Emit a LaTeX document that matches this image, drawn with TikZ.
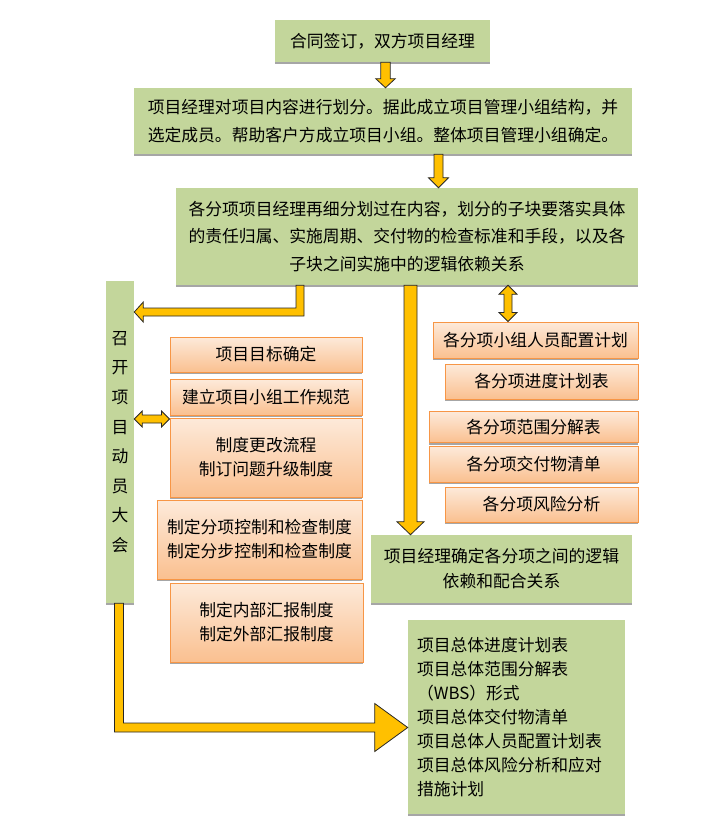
\documentclass[tikz,border=0pt]{standalone}
\usepackage{fontspec}
\setmainfont{Noto Sans CJK SC}
\usetikzlibrary{calc,shadows}
\definecolor{plangreen}{HTML}{C3D69B}
\definecolor{tasktop}{HTML}{FDEADA}
\definecolor{taskbot}{HTML}{FAC090}
\definecolor{taskline}{HTML}{F79646}
\definecolor{arrowyellow}{HTML}{FFC000}
\definecolor{shadowgray}{HTML}{A6A6A6}
\begin{document}
\begin{tikzpicture}[x=0.75pt,y=-0.75pt,
  box/.style 2 args={minimum width=#1*0.75pt,minimum height=#2*0.75pt,inner sep=3pt,align=center,
    general shadow={fill=shadowgray,shadow yshift=-1.6pt}},
  plan/.style={fill=plangreen,font=\fontsize{12.6}{18}\selectfont},
  task/.style={draw=taskline,line width=0.75pt,top color=tasktop,bottom color=taskbot,font=\fontsize{12.6}{18}\selectfont},
  fat/.style={fill=arrowyellow,draw=black!85,line width=0.6pt,line join=miter}]
\useasboundingbox (0,0) rectangle (708,819);
% main line
\node[plan,box={215}{42}] (sign) at (382.5,41) {合同签订，双方项目经理};
\node[plan,box={498}{66},font=\fontsize{12.6}{21}\selectfont] (divide) at (383,121)
  {项目经理对项目内容进行划分。据此成立项目管理小组结构，并\\选定成员。帮助客户方成立项目小组。整体项目管理小组确定。};
\node[plan,box={462}{97},font=\fontsize{12.6}{20.6}\selectfont] (split) at (407,236.5)
  {各分项项目经理再细分划过在内容，划分的子块要落实具体\\的责任归属、实施周期、交付物的检查标准和手段，以及各\\子块之间实施中的逻辑依赖关系};
\node[plan,box={28}{322},inner sep=0pt,font=\fontsize{12.6}{22.2}\selectfont] (meet) at (120,442)
  {召\\开\\项\\目\\动\\员\\大\\会};
% left column
\node[task,box={192}{35}] (goal) at (266,354.5) {项目目标确定};
\node[task,box={192}{36}] (norm) at (266,397) {建立项目小组工作规范};
\node[task,box={192}{79}] (change) at (266,457.5) {制度更改流程\\制订问题升级制度};
\node[task,box={205}{79}] (control) at (259.5,539.5) {制定分项控制和检查制度\\制定分步控制和检查制度};
\node[task,box={193}{79}] (report) at (266.5,622.5) {制定内部汇报制度\\制定外部汇报制度};
% right column
\node[task,box={205}{36}] (staff) at (535.5,340) {各分项小组人员配置计划};
\node[task,box={193}{35}] (sched) at (541.5,381.5) {各分项进度计划表};
\node[task,box={209}{31}] (scope) at (533.5,427) {各分项范围分解表};
\node[task,box={209}{36}] (deliv) at (533.5,464) {各分项交付物清单};
\node[task,box={193}{35}] (risk) at (541.5,504.5) {各分项风险分析};
\node[plan,box={261}{68},font=\fontsize{12.6}{18.75}\selectfont] (decide) at (501.5,569)
  {项目经理确定各分项之间的逻辑\\依赖和配合关系};
\node[plan,box={217}{194},align=left,text width=149.25pt,inner xsep=6.75pt] (total) at (516.5,717)
  {项目总体进度计划表\\项目总体范围分解表\\（WBS）形式\\项目总体交付物清单\\项目总体人员配置计划表\\项目总体风险分析和应对\\措施计划};
% arrows
\coordinate (a1s) at (sign.south -| 385.5,0);
\coordinate (a1e) at (divide.north -| 385.5,0);
\filldraw[fat] ($(a1s)+(-4.7,0)$) -- ($(a1s)+(4.7,0)$) -- ($(a1e)+(4.7,-9)$) -- ($(a1e)+(9.7,-9)$) -- (a1e)
  -- ($(a1e)+(-9.7,-9)$) -- ($(a1e)+(-4.7,-9)$) -- cycle;
\coordinate (a2s) at (divide.south -| 438.5,0);
\coordinate (a2e) at (split.north -| 438.5,0);
\filldraw[fat] ($(a2s)+(-4.5,0)$) -- ($(a2s)+(4.5,0)$) -- ($(a2e)+(4.5,-10)$) -- ($(a2e)+(10,-10)$) -- (a2e)
  -- ($(a2e)+(-10,-10)$) -- ($(a2e)+(-4.5,-10)$) -- cycle;
\coordinate (a3s) at (split.south -| 300,0);
\coordinate (a3e) at (meet.east |- 0,312);
\coordinate (a3c) at (a3s |- a3e);
\filldraw[fat] ($(a3s)+(-4,0)$) -- ($(a3s)+(4,0)$) -- ($(a3c)+(4,4)$) -- ($(a3e)+(9,4)$) -- ($(a3e)+(9,10)$) -- (a3e)
  -- ($(a3e)+(9,-10)$) -- ($(a3e)+(9,-4)$) -- ($(a3c)+(-4,-4)$) -- cycle;
\coordinate (a4s) at (split.south -| 410.5,0);
\coordinate (a4e) at (decide.north -| 410.5,0);
\filldraw[fat] ($(a4s)+(-6.5,0)$) -- ($(a4s)+(6.5,0)$) -- ($(a4e)+(6.5,-13)$) -- ($(a4e)+(13.5,-13)$) -- (a4e)
  -- ($(a4e)+(-13.5,-13)$) -- ($(a4e)+(-6.5,-13)$) -- cycle;
\coordinate (a5s) at (split.south -| 508,0);
\coordinate (a5e) at (staff.north -| 508,0);
\filldraw[fat] (a5s) -- ($(a5s)+(9,9)$) -- ($(a5s)+(4,9)$) -- ($(a5e)+(4,-9)$) -- ($(a5e)+(9,-9)$) -- (a5e)
  -- ($(a5e)+(-9,-9)$) -- ($(a5e)+(-4,-9)$) -- ($(a5s)+(-4,9)$) -- ($(a5s)+(-9,9)$) -- cycle;
\coordinate (a6s) at (meet.east |- 0,419);
\coordinate (a6e) at (norm.west |- 0,419);
\filldraw[fat] (a6s) -- ($(a6s)+(8,-8)$) -- ($(a6s)+(8,-4)$) -- ($(a6e)+(-8,-4)$) -- ($(a6e)+(-8,-8)$) -- (a6e)
  -- ($(a6e)+(-8,8)$) -- ($(a6e)+(-8,4)$) -- ($(a6s)+(8,4)$) -- ($(a6s)+(8,8)$) -- cycle;
\coordinate (a7s) at (meet.south -| 119,0);
\coordinate (a7e) at (total.west |- 0,727.5);
\coordinate (a7c) at (a7s |- a7e);
\filldraw[fat] ($(a7s)+(-4.5,0)$) -- ($(a7s)+(4.5,0)$) -- ($(a7c)+(4.5,-4.5)$) -- ($(a7e)+(-33,-4.5)$) -- ($(a7e)+(-33,-24)$) -- (a7e)
  -- ($(a7e)+(-33,24)$) -- ($(a7e)+(-33,4.5)$) -- ($(a7c)+(-4.5,4.5)$) -- cycle;
\end{tikzpicture}
\end{document}
